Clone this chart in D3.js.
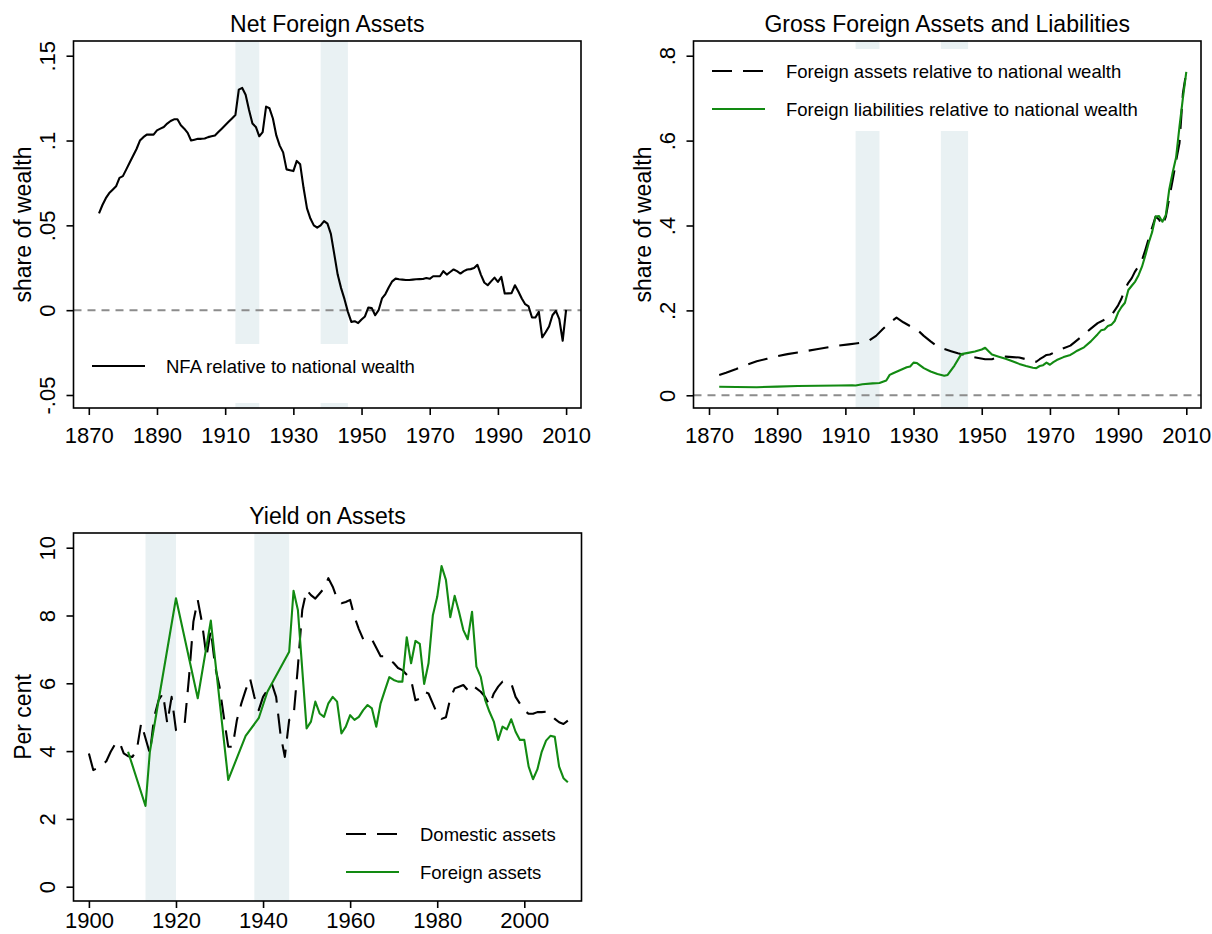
<!DOCTYPE html>
<html>
<head>
<meta charset="utf-8">
<script src="https://cdn.jsdelivr.net/npm/d3@7"></script>
<style>
  body { margin: 0; background: #fff; }
  svg text { font-family: "Liberation Sans", Arial, Helvetica, sans-serif; fill: #000; }
</style>
</head>
<body>
<div id="chart"></div>
<script>
// ---- values ----
const warBands = [[1913, 1920], [1938, 1946]];

// net foreign assets, share of national wealth  [year, value]
const nfa = [
  [1873,.057],[1874,.062],[1875,.066],[1876,.069],[1877,.071],[1878,.073],[1879,.078],[1880,.079],[1881,.083],[1882,.087],
  [1883,.091],[1884,.095],[1885,.100],[1886,.102],[1887,.1035],[1888,.1035],[1889,.1035],[1890,.106],[1891,.107],[1892,.108],
  [1893,.110],[1894,.1115],[1895,.1125],[1896,.1125],[1897,.109],[1898,.107],[1899,.1045],[1900,.100],[1901,.1005],[1902,.101],
  [1903,.101],[1904,.1012],[1905,.102],[1906,.1025],[1907,.103],[1908,.105],[1909,.107],[1910,.109],[1911,.111],[1912,.113],
  [1913,.115],[1914,.130],[1915,.131],[1916,.127],[1917,.118],[1918,.110],[1919,.108],[1920,.1025],[1921,.105],[1922,.120],
  [1923,.119],[1924,.113],[1925,.103],[1926,.097],[1927,.093],[1928,.083],[1929,.0825],[1930,.082],[1931,.088],[1932,.086],
  [1933,.072],[1934,.060],[1935,.054],[1936,.050],[1937,.0486],[1938,.050],[1939,.0525],[1940,.051],[1941,.045],[1942,.033],
  [1943,.021],[1944,.013],[1945,.0065],[1946,-.001],[1947,-.0069],[1948,-.0065],[1949,-.0076],[1950,-.0055],[1951,-.0037],[1952,.0016],
  [1953,.0012],[1954,-.003],[1955,.000],[1956,.0069],[1957,.0095],[1958,.0135],[1959,.017],[1960,.0186],[1961,.0182],[1962,.018],
  [1963,.0178],[1964,.0178],[1965,.018],[1966,.0182],[1967,.0183],[1968,.0184],[1969,.019],[1970,.0185],[1971,.020],[1972,.020],
  [1973,.020],[1974,.023],[1975,.021],[1976,.0225],[1977,.024],[1978,.023],[1979,.0216],[1980,.023],[1981,.024],[1982,.0242],
  [1983,.0248],[1984,.0267],[1985,.021],[1986,.0163],[1987,.0147],[1988,.017],[1989,.0192],[1990,.0167],[1991,.0196],[1992,.0098],
  [1993,.0099],[1994,.010],[1995,.0147],[1996,.011],[1997,.0069],[1998,.0035],[1999,.0022],[2000,-.0043],[2001,-.0043],[2002,-.001],
  [2003,-.016],[2004,-.013],[2005,-.0096],[2006,-.003],[2007,-.0004],[2008,-.0053],[2009,-.018],[2010,.0002]
];

// gross foreign assets relative to national wealth
const grossAssets = [
  [1873,.048],[1875,.053],[1878,.062],[1881,.072],[1884,.080],[1887,.086],[1890,.092],[1893,.097],[1896,.101],[1899,.105],
  [1902,.109],[1905,.113],[1908,.117],[1911,.120],[1913,.122],[1915,.124],[1917,.129],[1919,.140],[1921,.156],[1923,.171],
  [1925,.183],[1927,.172],[1929,.163],[1931,.155],[1933,.140],[1935,.127],[1937,.115],[1939,.109],[1941,.104],[1943,.099],
  [1945,.095],[1947,.091],[1949,.088],[1951,.085],[1953,.085],[1955,.090],[1957,.091],[1959,.090],[1961,.089],[1963,.085],
  [1965,.080],[1966,.079],[1967,.085],[1968,.090],[1969,.095],[1970,.096],[1972,.104],[1974,.111],[1976,.117],[1978,.130],
  [1980,.143],[1982,.157],[1984,.170],[1986,.178],[1988,.188],[1990,.212],[1991,.228],[1992,.250],[1993,.265],[1994,.276],
  [1995,.292],[1996,.304],[1997,.318],[1998,.343],[1999,.370],[2000,.396],[2001,.421],[2002,.414],[2003,.399],[2004,.421],
  [2005,.465],[2006,.507],[2007,.552],[2008,.594],[2009,.711],[2010,.762]
];

// gross foreign liabilities relative to national wealth
const grossLiabilities = [
  [1873,.020],[1878,.0195],[1884,.019],[1890,.0205],[1896,.022],[1902,.0225],[1908,.023],[1912,.0235],[1913,.023],[1915,.026],
  [1918,.028],[1920,.029],[1922,.035],[1923,.048],[1924,.052],[1926,.059],[1928,.066],[1929,.068],[1930,.077],[1931,.076],
  [1932,.070],[1933,.064],[1935,.056],[1937,.050],[1939,.046],[1940,.048],[1942,.070],[1944,.097],[1946,.100],[1948,.103],
  [1950,.108],[1951,.112],[1952,.104],[1953,.096],[1955,.091],[1957,.086],[1959,.080],[1961,.074],[1963,.069],[1965,.065],
  [1966,.064],[1967,.069],[1968,.071],[1969,.077],[1970,.072],[1971,.078],[1972,.083],[1974,.090],[1976,.095],[1977,.100],
  [1978,.105],[1980,.113],[1982,.127],[1984,.144],[1985,.153],[1986,.155],[1987,.163],[1988,.166],[1989,.175],[1990,.195],
  [1991,.208],[1992,.218],[1993,.248],[1994,.258],[1995,.268],[1996,.283],[1997,.303],[1998,.330],[1999,.360],[2000,.385],
  [2001,.421],[2002,.422],[2003,.409],[2004,.425],[2005,.485],[2006,.525],[2007,.560],[2008,.633],[2009,.700],[2010,.762]
];

// yields, per cent
const domesticYield = [
  [1900,3.93],[1901,3.44],[1902,3.5],[1903,3.59],[1904,3.7],[1905,3.98],[1906,4.2],[1907,4.28],[1908,3.93],[1909,3.85],
  [1910,3.83],[1911,4.03],[1912,4.82],[1913,4.38],[1914,3.93],[1915,5.01],[1916,5.5],[1917,5.70],[1918,4.82],[1919,5.60],
  [1920,4.62],[1921,4.72],[1922,4.82],[1923,6.19],[1924,7.82],[1925,8.46],[1926,7.77],[1927,6.78],[1928,7.57],[1929,6.49],
  [1930,5.9],[1931,5.0],[1932,4.13],[1933,4.13],[1934,4.92],[1935,5.4],[1936,5.8],[1937,6.15],[1938,5.6],[1939,5.21],
  [1940,5.6],[1941,5.8],[1942,6.0],[1943,5.6],[1944,4.5],[1945,3.83],[1946,4.92],[1947,5.01],[1948,6.49],[1949,8.16],
  [1950,8.75],[1951,8.6],[1952,8.5],[1953,8.65],[1954,8.8],[1955,9.1],[1956,8.85],[1957,8.5],[1958,8.36],[1959,8.4],
  [1960,8.46],[1961,7.96],[1962,7.6],[1963,7.3],[1964,7.25],[1965,7.3],[1966,7.05],[1967,6.8],[1968,6.8],[1969,6.7],
  [1970,6.6],[1971,6.45],[1972,6.39],[1973,6.25],[1974,6.1],[1975,5.5],[1976,5.55],[1977,5.75],[1978,5.7],[1979,5.4],
  [1980,5.1],[1981,4.95],[1982,5.0],[1983,5.55],[1984,5.85],[1985,5.9],[1986,5.95],[1987,5.8],[1988,5.95],[1989,5.85],
  [1990,5.75],[1991,5.6],[1992,5.35],[1993,5.7],[1994,5.9],[1995,6.05],[1996,6.05],[1997,6.0],[1998,5.6],[1999,5.4],
  [2000,5.2],[2001,5.1],[2002,5.1],[2003,5.15],[2004,5.15],[2005,5.16],[2006,5.1],[2007,4.95],[2008,4.85],[2009,4.8],
  [2010,4.9]
];

const foreignYield = [
  [1909,3.98],[1913,2.38],[1914,3.98],[1920,8.51],[1925,5.56],[1928,7.85],[1932,3.15],[1936,4.45],[1939,4.97],[1941,5.75],
  [1946,6.93],[1947,8.73],[1948,8.16],[1950,4.67],[1951,4.87],[1952,5.46],[1953,5.11],[1954,5.01],[1955,5.41],[1956,5.60],
  [1957,5.46],[1958,4.52],[1959,4.72],[1960,5.06],[1961,4.92],[1962,5.01],[1963,5.21],[1964,5.36],[1965,5.26],[1966,4.72],
  [1967,5.41],[1968,5.8],[1969,6.18],[1970,6.1],[1971,6.05],[1972,6.05],[1973,7.36],[1974,6.59],[1975,7.25],[1976,7.16],
  [1977,5.98],[1978,6.59],[1979,8.01],[1980,8.55],[1981,9.46],[1982,9.05],[1983,7.95],[1984,8.58],[1985,8.11],[1986,7.57],
  [1987,7.30],[1988,8.11],[1989,6.49],[1990,6.19],[1991,5.51],[1992,5.16],[1993,4.87],[1994,4.33],[1995,4.72],[1996,4.64],
  [1997,4.94],[1998,4.57],[1999,4.33],[2000,4.33],[2001,3.54],[2002,3.17],[2003,3.46],[2004,3.98],[2005,4.31],[2006,4.45],
  [2007,4.42],[2008,3.54],[2009,3.20],[2010,3.08]
];

// tick values and labels
const yearTicksLong = [1870, 1890, 1910, 1930, 1950, 1970, 1990, 2010];
const yearTicksYield = [1900, 1920, 1940, 1960, 1980, 2000];
const nfaTicks = [-0.05, 0, 0.05, 0.1, 0.15];
const nfaTickLabels = ["-.05", "0", ".05", ".1", ".15"];
const grossTicks = [0, 0.2, 0.4, 0.6, 0.8];
const grossTickLabels = ["0", ".2", ".4", ".6", ".8"];
const yieldTicks = [0, 2, 4, 6, 8, 10];
const yieldTickLabels = ["0", "2", "4", "6", "8", "10"];

const GREEN = "#128a12";
const BAND = "#e9f1f3";
const LONGDASH = "20,11";

var svg = d3.select("#chart")
  .append("svg")
    .attr("width", 1212)
    .attr("height", 934);

function drawPanel(p) {
  const g = svg.append("g");
  const f = p.frame;

  const x = d3.scaleLinear().domain(p.xDomain).range(p.xRange);
  const y = d3.scaleLinear().domain(p.yDomain).range(p.yRange);

  g.append("clipPath").attr("id", "clip-" + p.id)
    .append("rect")
      .attr("x", f.left).attr("y", f.top)
      .attr("width", f.right - f.left).attr("height", f.bottom - f.top);

  // shaded war years
  g.selectAll(".band")
    .data(warBands)
    .enter().append("rect")
      .attr("x", d => x(d[0]))
      .attr("width", d => x(d[1]) - x(d[0]))
      .attr("y", f.top)
      .attr("height", f.bottom - f.top)
      .attr("fill", BAND);

  if (p.zeroLine) {
    g.append("line")
      .attr("x1", f.left).attr("x2", f.right)
      .attr("y1", y(0)).attr("y2", y(0))
      .attr("stroke", "#8c8c8c")
      .attr("stroke-width", 2)
      .attr("stroke-dasharray", "8,6");
  }

  // legend background hides the bands behind it
  if (p.legendBox) {
    g.append("rect")
      .attr("x", p.legendBox[0]).attr("y", p.legendBox[1])
      .attr("width", p.legendBox[2]).attr("height", p.legendBox[3])
      .attr("fill", "#fff");
  }

  const line = d3.line()
    .x(d => x(d[0]))
    .y(d => y(d[1]));

  p.series.forEach(s => {
    g.append("path")
      .datum(s.data)
      .attr("d", line)
      .attr("fill", "none")
      .attr("stroke", s.color)
      .attr("stroke-width", 2.1)
      .attr("stroke-linejoin", "round")
      .attr("stroke-dasharray", s.dash || null)
      .attr("clip-path", "url(#clip-" + p.id + ")");
  });

  // plot frame
  g.append("rect")
    .attr("x", f.left).attr("y", f.top)
    .attr("width", f.right - f.left).attr("height", f.bottom - f.top)
    .attr("fill", "none")
    .attr("stroke", "#000")
    .attr("stroke-width", 1.6);

  // x axis
  const xa = g.append("g")
    .attr("transform", "translate(0," + f.bottom + ")")
    .call(d3.axisBottom(x).tickValues(p.xTicks).tickSize(7).tickPadding(p.xPad).tickFormat(d3.format("d")));
  xa.select(".domain").remove();
  xa.selectAll("line").attr("stroke", "#000").attr("stroke-width", 1.6);
  xa.selectAll("text")
    .attr("font-size", 22)
    .attr("font-family", "Liberation Sans, Arial, sans-serif");

  // y axis, labels turned like the original
  const ya = g.append("g")
    .attr("transform", "translate(" + f.left + ",0)")
    .call(d3.axisLeft(y).tickValues(p.yTicks).tickSize(7).tickFormat((d, i) => p.yTickLabels[i]));
  ya.select(".domain").remove();
  ya.selectAll("line").attr("stroke", "#000").attr("stroke-width", 1.6);
  ya.selectAll("text")
    .attr("font-size", 22)
    .attr("font-family", "Liberation Sans, Arial, sans-serif")
    .attr("text-anchor", "middle")
    .attr("x", -26)
    .attr("dy", null)
    .attr("dominant-baseline", "central")
    .attr("transform", "rotate(-90 -26 0)");

  // titles
  g.append("text")
    .attr("x", (f.left + f.right) / 2)
    .attr("y", f.top - 9)
    .attr("text-anchor", "middle")
    .attr("font-size", 23)
    .text(p.title);

  const ty = (f.top + f.bottom) / 2;
  g.append("text")
    .attr("transform", "translate(" + (f.left - 51) + "," + ty + ") rotate(-90)")
    .attr("text-anchor", "middle")
    .attr("dominant-baseline", "central")
    .attr("font-size", 23)
    .text(p.yTitle);

  // legend keys
  p.legend.forEach(l => {
    g.append("line")
      .attr("x1", l.x).attr("x2", l.x + 53)
      .attr("y1", l.y).attr("y2", l.y)
      .attr("stroke", l.color)
      .attr("stroke-width", 2.1)
      .attr("stroke-dasharray", l.dash || null);
    g.append("text")
      .attr("x", l.x + 74)
      .attr("y", l.y)
      .attr("dominant-baseline", "central")
      .attr("font-size", 18.5)
      .text(l.label);
  });
}

drawPanel({
  id: "nfa",
  frame: {left: 73.5, right: 581, top: 41, bottom: 408},
  xDomain: [1870, 2010], xRange: [88.8, 566.1],
  yDomain: [-0.05, 0.15], yRange: [395, 55.7],
  xTicks: yearTicksLong, xPad: 12, yTicks: nfaTicks, yTickLabels: nfaTickLabels,
  title: "Net Foreign Assets", yTitle: "share of wealth",
  zeroLine: true,
  legendBox: [79, 344, 360, 59],
  series: [{data: nfa, color: "#000"}],
  legend: [{x: 92, y: 366, color: "#000", label: "NFA relative to national wealth"}]
});

drawPanel({
  id: "gross",
  frame: {left: 693.5, right: 1201, top: 41, bottom: 408},
  xDomain: [1870, 2010], xRange: [709, 1186.3],
  yDomain: [0, 0.8], yRange: [395.3, 55.7],
  xTicks: yearTicksLong, xPad: 12, yTicks: grossTicks, yTickLabels: grossTickLabels,
  title: "Gross Foreign Assets and Liabilities", yTitle: "share of wealth",
  zeroLine: true,
  legendBox: [699, 49, 455, 82],
  series: [
    {data: grossAssets, color: "#000", dash: LONGDASH},
    {data: grossLiabilities, color: GREEN}
  ],
  legend: [
    {x: 712, y: 71, color: "#000", dash: LONGDASH, label: "Foreign assets relative to national wealth"},
    {x: 712, y: 109, color: GREEN, label: "Foreign liabilities relative to national wealth"}
  ]
});

drawPanel({
  id: "yield",
  frame: {left: 73.5, right: 581.5, top: 533, bottom: 901},
  xDomain: [1900, 2000], xRange: [88.9, 524.3],
  yDomain: [0, 10], yRange: [886.7, 547.7],
  xTicks: yearTicksYield, xPad: 4, yTicks: yieldTicks, yTickLabels: yieldTickLabels,
  title: "Yield on Assets", yTitle: "Per cent",
  zeroLine: false,
  series: [
    {data: domesticYield, color: "#000", dash: LONGDASH},
    {data: foreignYield, color: GREEN}
  ],
  legend: [
    {x: 346, y: 834, color: "#000", dash: LONGDASH, label: "Domestic assets"},
    {x: 346, y: 872, color: GREEN, label: "Foreign assets"}
  ]
});
</script>
</body>
</html>
